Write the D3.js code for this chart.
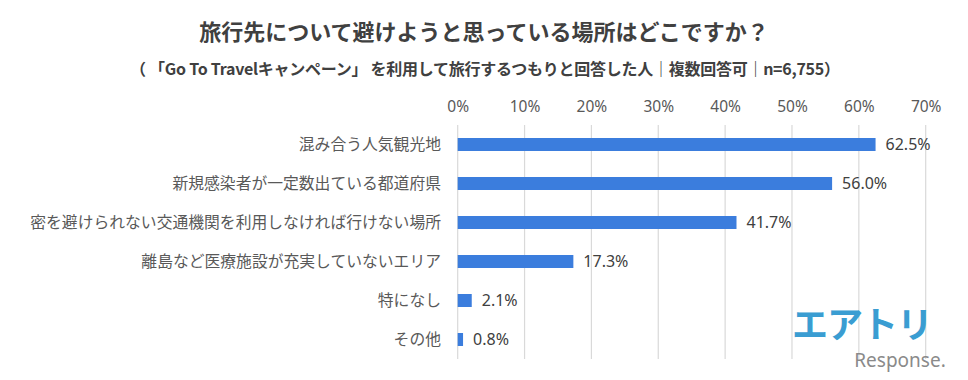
<!DOCTYPE html>
<html><head><meta charset="utf-8">
<script src="https://cdn.jsdelivr.net/npm/d3@7/dist/d3.min.js"></script>
<style>body{margin:0;background:#fff;}svg{display:block;font-family:"Noto Sans CJK JP","Noto Sans",sans-serif;}</style>
</head><body>
<script>
const categories = ["混み合う人気観光地","新規感染者が一定数出ている都道府県","密を避けられない交通機関を利用しなければ行けない場所","離島など医療施設が充実していないエリア","特になし","その他"];
const values = [62.5,56.0,41.7,17.3,2.1,0.8];
const valueLabels = ["62.5%","56.0%","41.7%","17.3%","2.1%","0.8%"];
const ticks = [0,10,20,30,40,50,60,70];
const title = "旅行先について避けようと思っている場所はどこですか？";
const subtitle = "（ 「Go To Travelキャンペーン」 を利用して旅行するつもりと回答した人｜複数回答可｜n=6,755）";

const W=968,H=380;
const svg=d3.select("body").append("svg").attr("width",W).attr("height",H);
const x=d3.scaleLinear().domain([0,70]).range([457.7,925.7]);
const y=d3.scaleBand().domain(categories).range([125,359]).paddingInner(0.66).paddingOuter(0.33);

svg.append("text").attr("x",484).attr("y",40).attr("text-anchor","middle")
  .attr("font-size",22).attr("font-weight","bold").attr("fill","#404040").text(title);
svg.append("text").attr("x",485).attr("y",75).attr("text-anchor","middle")
  .attr("font-size",16).attr("font-weight","bold").attr("fill","#404040")
  .attr("textLength",710).attr("lengthAdjust","spacing").text(subtitle);

const grid=svg.append("g");
grid.selectAll("line").data(ticks).join("line")
  .attr("x1",d=>x(d)).attr("x2",d=>x(d)).attr("y1",125).attr("y2",359)
  .attr("stroke","#d9d9d9").attr("stroke-width",1.2);

const ax=svg.append("g").attr("transform","translate(0,112)")
  .call(d3.axisTop(x).tickValues(ticks).tickFormat(d=>d+"%").tickSize(0).tickPadding(0));
ax.select(".domain").remove();
ax.selectAll("text").attr("font-size",15.5).attr("fill","#595959").attr("font-family","'Noto Sans',sans-serif");

svg.append("g").selectAll("rect").data(values).join("rect")
  .attr("x",x(0)).attr("y",(d,i)=>y(categories[i])+y.bandwidth()/2-6.5)
  .attr("width",d=>x(d)-x(0)).attr("height",13).attr("fill","#3b7ddd");

svg.append("g").selectAll("text").data(values).join("text")
  .attr("x",d=>x(d)+10).attr("y",(d,i)=>y(categories[i])+y.bandwidth()/2)
  .attr("dy","0.36em").attr("font-size",16).attr("fill","#404040")
  .attr("font-family","'Noto Sans',sans-serif").text((d,i)=>valueLabels[i]);

svg.append("g").selectAll("text").data(categories).join("text")
  .attr("x",441).attr("y",d=>y(d)+y.bandwidth()/2).attr("dy","0.36em")
  .attr("text-anchor","end").attr("font-size",15.8).attr("fill","#595959").text(d=>d);

svg.append("text").attr("x",862).attr("y",338).attr("text-anchor","middle")
  .attr("font-size",36).attr("font-weight","bold").attr("fill","#3a9dd2").attr("letter-spacing",-1).text("エアトリ");
svg.append("text").attr("x",900).attr("y",367).attr("text-anchor","middle")
  .attr("font-size",19).attr("fill","#8a8a8a").attr("font-family","'Noto Sans',sans-serif").text("Response.");
</script>
</body></html>
